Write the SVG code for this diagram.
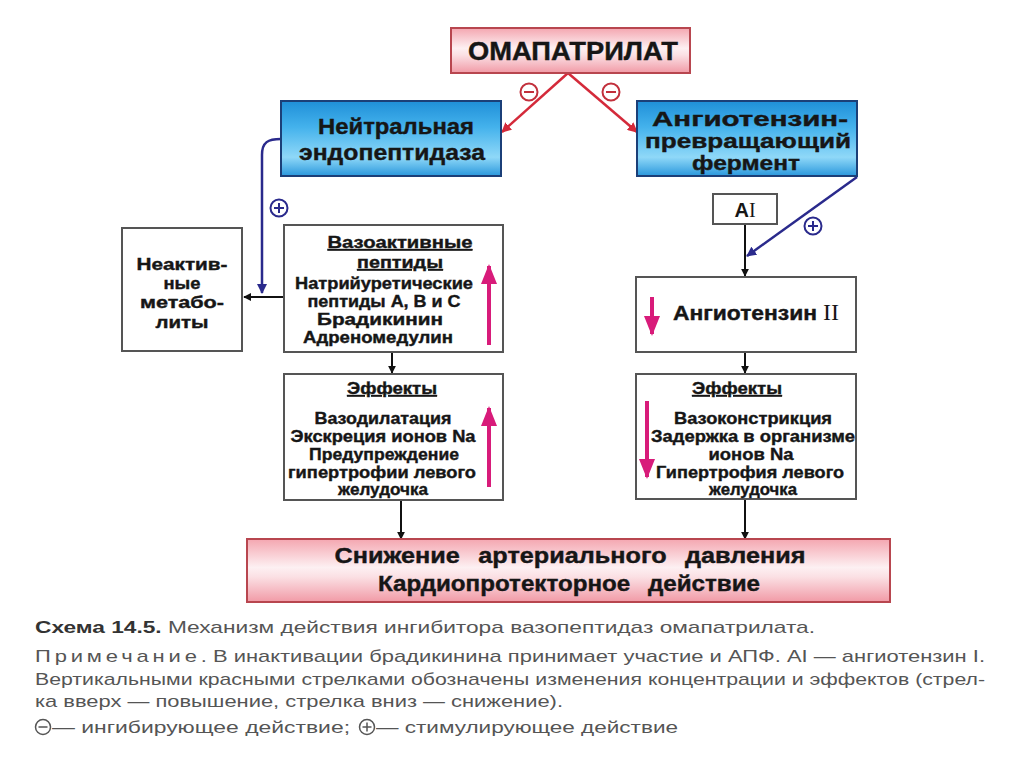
<svg xmlns="http://www.w3.org/2000/svg" width="1024" height="767" viewBox="0 0 1024 767">
<defs>
<linearGradient id="pinkG" x1="0" y1="0" x2="0" y2="1">
<stop offset="0" stop-color="#f4a6b0"/>
<stop offset="0.45" stop-color="#fdf0f2"/>
<stop offset="0.6" stop-color="#fbe0e4"/>
<stop offset="1" stop-color="#f19aa6"/>
</linearGradient>
<linearGradient id="blueG" x1="0" y1="0" x2="0" y2="1">
<stop offset="0" stop-color="#1f8fd8"/>
<stop offset="0.35" stop-color="#44b2ec"/>
<stop offset="0.75" stop-color="#8fd8f8"/>
<stop offset="1" stop-color="#2a98dc"/>
</linearGradient>
<marker id="ahK" viewBox="0 0 10 10" refX="9" refY="5" markerWidth="8" markerHeight="8" markerUnits="userSpaceOnUse" orient="auto">
<path d="M0,0 L10,5 L0,10 Z" fill="#111"/>
</marker>
<marker id="ahR" viewBox="0 0 10 10" refX="9" refY="5" markerWidth="10" markerHeight="10" markerUnits="userSpaceOnUse" orient="auto">
<path d="M0,0 L10,5 L0,10 Z" fill="#d42a3a"/>
</marker>
<marker id="ahB" viewBox="0 0 10 10" refX="9" refY="5" markerWidth="10" markerHeight="10" markerUnits="userSpaceOnUse" orient="auto">
<path d="M0,0 L10,5 L0,10 Z" fill="#2a2a8c"/>
</marker>
<marker id="ahM" viewBox="0 0 10 10" refX="9" refY="5" markerWidth="20" markerHeight="20" markerUnits="userSpaceOnUse" orient="auto">
<path d="M0,1 L10,5 L0,9 Z" fill="#d81b7a"/>
</marker>
</defs>
<style>
.t{font-family:"Liberation Sans",Arial,sans-serif;font-weight:bold;fill:#161616;stroke:#161616;stroke-width:0.4;text-anchor:middle}
.s{font-size:17px}
.box{fill:#fff;stroke:#555;stroke-width:2}
.blue{fill:url(#blueG);stroke:#1b3f78;stroke-width:2}
.pink{fill:url(#pinkG);stroke:#b8464f;stroke-width:2}
.cap{font-family:"Liberation Sans",Arial,sans-serif;font-size:17px;fill:#555}
.k{stroke:#111;stroke-width:2;fill:none}
.r{stroke:#d42a3a;stroke-width:2.5;fill:none}
.b{stroke:#2a2a8c;stroke-width:2.5;fill:none}
.m{stroke:#d81b7a;stroke-width:4;fill:none}
.sign{fill:none;stroke-width:2}
</style>
<rect width="1024" height="767" fill="#fff"/>

<g id="connectors">
<path class="r" d="M568,73 L502,132" marker-end="url(#ahR)"/>
<path class="r" d="M568,73 L637,132" marker-end="url(#ahR)"/>
<circle class="sign" cx="529" cy="92" r="8.5" stroke="#c2303c"/>
<line x1="524" y1="92" x2="534" y2="92" stroke="#c2303c" stroke-width="2"/>
<circle class="sign" cx="611" cy="92" r="8.5" stroke="#c2303c"/>
<line x1="606" y1="92" x2="616" y2="92" stroke="#c2303c" stroke-width="2"/>

<path class="b" d="M281,139 C268,139 262,142 262,155 L262,293" marker-end="url(#ahB)"/>
<circle class="sign" cx="279" cy="208" r="8.5" stroke="#2a2a8c"/>
<line x1="274" y1="208" x2="284" y2="208" stroke="#2a2a8c" stroke-width="2"/>
<line x1="279" y1="203" x2="279" y2="213" stroke="#2a2a8c" stroke-width="2"/>
<path class="k" d="M283,297 L244,297" marker-end="url(#ahK)"/>

<path class="b" d="M857,177 L747,256" marker-end="url(#ahB)"/>
<circle class="sign" cx="813" cy="226" r="8.5" stroke="#2a2a8c"/>
<line x1="808" y1="226" x2="818" y2="226" stroke="#2a2a8c" stroke-width="2"/>
<line x1="813" y1="221" x2="813" y2="231" stroke="#2a2a8c" stroke-width="2"/>
<path class="k" d="M745,224 L745,276" marker-end="url(#ahK)"/>

<path class="k" d="M392,352 L392,373" marker-end="url(#ahK)"/>
<path class="k" d="M745,352 L745,373" marker-end="url(#ahK)"/>
<path class="k" d="M401,500 L401,539" marker-end="url(#ahK)"/>
<path class="k" d="M745,499 L745,539" marker-end="url(#ahK)"/>
</g>

<g id="omapatrilat">
<rect class="pink" x="451" y="28" width="239" height="45"/>
<text class="t" x="573" y="60" font-size="26" textLength="210" lengthAdjust="spacingAndGlyphs">ОМАПАТРИЛАТ</text>
</g>

<g id="nep">
<rect class="blue" x="281" y="101" width="220" height="75"/>
<text class="t" x="396" y="134" font-size="22" textLength="156" lengthAdjust="spacingAndGlyphs">Нейтральная</text>
<text class="t" x="392" y="160" font-size="22" textLength="186" lengthAdjust="spacingAndGlyphs">эндопептидаза</text>
</g>

<g id="ace">
<rect class="blue" x="637" y="101" width="220" height="75"/>
<text class="t" x="750" y="126" font-size="21" textLength="196" lengthAdjust="spacingAndGlyphs">Ангиотензин-</text>
<text class="t" x="748" y="148" font-size="21" textLength="206" lengthAdjust="spacingAndGlyphs">превращающий</text>
<text class="t" x="746" y="170" font-size="21" textLength="108" lengthAdjust="spacingAndGlyphs">фермент</text>
</g>

<g id="inactive">
<rect class="box" x="122" y="228" width="120" height="123"/>
<text class="t s" x="182" y="270" textLength="91" lengthAdjust="spacingAndGlyphs">Неактив-</text>
<text class="t s" x="182" y="289" textLength="37" lengthAdjust="spacingAndGlyphs">ные</text>
<text class="t s" x="182" y="308" textLength="84" lengthAdjust="spacingAndGlyphs">метабо-</text>
<text class="t s" x="182" y="328" textLength="53" lengthAdjust="spacingAndGlyphs">литы</text>
</g>

<g id="vasoactive">
<rect class="box" x="284" y="225" width="219" height="127"/>
<text class="t s" x="400" y="248" text-decoration="underline" textLength="145" lengthAdjust="spacingAndGlyphs">Вазоактивные</text>
<text class="t s" x="400" y="268" text-decoration="underline" textLength="86" lengthAdjust="spacingAndGlyphs">пептиды</text>
<text class="t s" x="384" y="289" textLength="178" lengthAdjust="spacingAndGlyphs">Натрийуретические</text>
<text class="t s" x="384" y="307" textLength="153" lengthAdjust="spacingAndGlyphs">пептиды A, B и C</text>
<text class="t s" x="380" y="325" textLength="126" lengthAdjust="spacingAndGlyphs">Брадикинин</text>
<text class="t s" x="378" y="343" textLength="150" lengthAdjust="spacingAndGlyphs">Адреномедулин</text>
<path class="m" d="M489,345 L489,266" marker-end="url(#ahM)"/>
</g>

<g id="effects-left">
<rect class="box" x="284" y="374" width="219" height="126"/>
<text class="t s" x="392" y="394" text-decoration="underline" textLength="90" lengthAdjust="spacingAndGlyphs">Эффекты</text>
<text class="t s" x="383" y="424" textLength="137" lengthAdjust="spacingAndGlyphs">Вазодилатация</text>
<text class="t s" x="383" y="442" textLength="185" lengthAdjust="spacingAndGlyphs">Экскреция ионов Na</text>
<text class="t s" x="384" y="460" textLength="150" lengthAdjust="spacingAndGlyphs">Предупреждение</text>
<text class="t s" x="382" y="478" textLength="188" lengthAdjust="spacingAndGlyphs">гипертрофии левого</text>
<text class="t s" x="383" y="495" textLength="90" lengthAdjust="spacingAndGlyphs">желудочка</text>
<path class="m" d="M489,487 L489,408" marker-end="url(#ahM)"/>
</g>

<g id="ai">
<rect class="box" x="713" y="194" width="64" height="30"/>
<text x="745" y="217" font-size="20" text-anchor="middle" fill="#161616"><tspan font-family="Liberation Sans, Arial, sans-serif" font-weight="bold">A</tspan><tspan font-family="Liberation Serif, Times New Roman, serif">I</tspan></text>
</g>

<g id="angiotensin2">
<rect class="box" x="636" y="277" width="220" height="75"/>
<text x="673" y="320" font-size="20" font-family="Liberation Sans, Arial, sans-serif" font-weight="bold" fill="#161616" stroke="#161616" stroke-width="0.4" textLength="144" lengthAdjust="spacingAndGlyphs">Ангиотензин</text>
<text x="823" y="320" font-size="24" font-family="Liberation Serif, Times New Roman, serif" fill="#161616">II</text>
<path class="m" d="M652,297 L652,334" marker-end="url(#ahM)"/>
</g>

<g id="effects-right">
<rect class="box" x="636" y="374" width="220" height="125"/>
<text class="t s" x="737" y="394" text-decoration="underline" textLength="90" lengthAdjust="spacingAndGlyphs">Эффекты</text>
<text class="t s" x="753" y="424" textLength="158" lengthAdjust="spacingAndGlyphs">Вазоконстрикция</text>
<text class="t s" x="753" y="442" textLength="204" lengthAdjust="spacingAndGlyphs">Задержка в организме</text>
<text class="t s" x="751" y="460" textLength="85" lengthAdjust="spacingAndGlyphs">ионов Na</text>
<text class="t s" x="750" y="478" textLength="188" lengthAdjust="spacingAndGlyphs">Гипертрофия левого</text>
<text class="t s" x="753" y="495" textLength="88" lengthAdjust="spacingAndGlyphs">желудочка</text>
<path class="m" d="M647,401 L647,477" marker-end="url(#ahM)"/>
</g>

<g id="result">
<rect class="pink" x="247" y="539" width="643" height="63"/>
<text class="t" x="570" y="563" font-size="22" word-spacing="10" textLength="471" lengthAdjust="spacingAndGlyphs">Снижение артериального давления</text>
<text class="t" x="569" y="591" font-size="22" word-spacing="10" textLength="382" lengthAdjust="spacingAndGlyphs">Кардиопротекторное действие</text>
</g>

<g id="caption">
<text class="cap" x="35" y="633" fill="#333" textLength="780" lengthAdjust="spacingAndGlyphs"><tspan font-weight="bold" fill="#333">Схема 14.5.</tspan> Механизм действия ингибитора вазопептидаз омапатрилата.</text>
<text class="cap" x="35" y="662" textLength="950" lengthAdjust="spacingAndGlyphs"><tspan letter-spacing="3">Примечание</tspan>. В инактивации брадикинина принимает участие и АПФ. AI — ангиотензин I.</text>
<text class="cap" x="35" y="685" textLength="950" lengthAdjust="spacingAndGlyphs">Вертикальными красными стрелками обозначены изменения концентрации и эффектов (стрел-</text>
<text class="cap" x="35" y="707" textLength="528" lengthAdjust="spacingAndGlyphs">ка вверх — повышение, стрелка вниз — снижение).</text>
<g stroke="#555" stroke-width="1.5" fill="none">
<circle cx="43" cy="727" r="7.5"/>
<line x1="38.5" y1="727" x2="47.5" y2="727"/>
<circle cx="367" cy="727" r="7.5"/>
<line x1="362.5" y1="727" x2="371.5" y2="727"/>
<line x1="367" y1="722.5" x2="367" y2="731.5"/>
</g>
<text class="cap" x="52" y="733" textLength="298" lengthAdjust="spacingAndGlyphs">— ингибирующее действие;</text>
<text class="cap" x="376" y="733" textLength="302" lengthAdjust="spacingAndGlyphs">— стимулирующее действие</text>
</g>
</svg>
